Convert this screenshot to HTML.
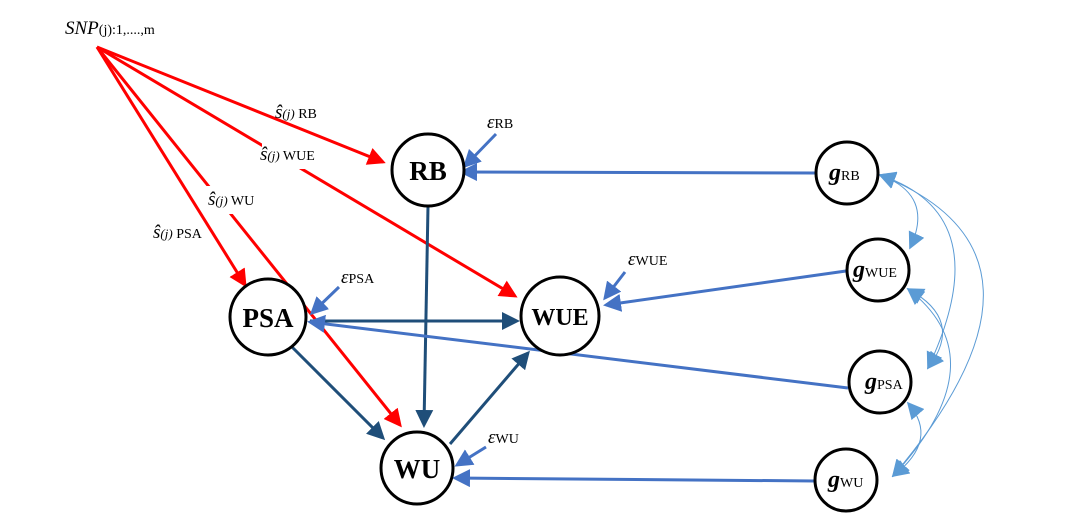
<!DOCTYPE html>
<html><head><meta charset="utf-8"><style>
html,body{margin:0;padding:0;background:#fff;width:1068px;height:523px;overflow:hidden}
svg text{font-family:"Liberation Serif",serif}
</style></head><body>
<svg width="1068" height="523" viewBox="0 0 1068 523" xmlns="http://www.w3.org/2000/svg">
<defs>
<marker id="ar" markerWidth="6" markerHeight="6" refX="5" refY="3" orient="auto" markerUnits="strokeWidth"><path d="M0,0 L6,3 L0,6 z" fill="#ff0000"/></marker>
<marker id="ad" markerWidth="6" markerHeight="6" refX="5" refY="3" orient="auto" markerUnits="strokeWidth"><path d="M0,0 L6,3 L0,6 z" fill="#1f4e79"/></marker>
<marker id="ab" markerWidth="6" markerHeight="6" refX="5" refY="3" orient="auto" markerUnits="strokeWidth"><path d="M0,0 L6,3 L0,6 z" fill="#4472c4"/></marker>
<marker id="al" viewBox="0 0 10 10" markerWidth="17" markerHeight="17" refX="9" refY="5" orient="auto-start-reverse" markerUnits="userSpaceOnUse"><path d="M0,0 L10,5 L0,10 z" fill="#5b9bd5"/></marker>
</defs>

<!-- red lines -->
<g stroke="#ff0000" stroke-width="3" fill="none">
<line x1="97" y1="47" x2="383" y2="162" marker-end="url(#ar)"/>
<line x1="97" y1="47" x2="515" y2="296" marker-end="url(#ar)"/>
<line x1="97" y1="47" x2="245" y2="285" marker-end="url(#ar)"/>
<line x1="97" y1="47" x2="400" y2="425" marker-end="url(#ar)"/>
</g>
<!-- label masks -->
<rect x="262" y="142" width="60" height="27" fill="#fff"/>
<rect x="204" y="186" width="52" height="28" fill="#fff"/>

<!-- dark blue -->
<g stroke="#1f4e79" stroke-width="3" fill="none">
<line x1="428" y1="206" x2="424" y2="425" marker-end="url(#ad)"/>
<line x1="310" y1="321" x2="517" y2="321" marker-end="url(#ad)"/>
<line x1="292" y1="347" x2="383" y2="438" marker-end="url(#ad)"/>
<line x1="450" y1="444" x2="528" y2="353" marker-end="url(#ad)"/>
</g>

<!-- blue -->
<g stroke="#4472c4" stroke-width="3" fill="none">
<line x1="815" y1="173" x2="462" y2="172" marker-end="url(#ab)"/>
<line x1="846" y1="271" x2="606" y2="305" marker-end="url(#ab)"/>
<line x1="848" y1="388" x2="310" y2="322" marker-end="url(#ab)"/>
<line x1="815" y1="481" x2="455" y2="478" marker-end="url(#ab)"/>
<line x1="496" y1="134" x2="465" y2="166" marker-end="url(#ab)"/>
<line x1="339" y1="287" x2="312" y2="313" marker-end="url(#ab)"/>
<line x1="625" y1="272" x2="605" y2="298" marker-end="url(#ab)"/>
<line x1="486" y1="447" x2="457" y2="465" marker-end="url(#ab)"/>
</g>

<!-- light blue curves -->
<g stroke="#5b9bd5" stroke-width="1" fill="none">
<path d="M880,175 Q935,195 910,248" marker-start="url(#al)" marker-end="url(#al)"/>
<path d="M880,175 Q1000,215 928,368" marker-start="url(#al)" marker-end="url(#al)"/>
<path d="M880,175 Q1080,255 893,476" marker-start="url(#al)" marker-end="url(#al)"/>
<path d="M908,289 Q965,320 928,368" marker-start="url(#al)" marker-end="url(#al)"/>
<path d="M908,289 Q1000,360 893,476" marker-start="url(#al)" marker-end="url(#al)"/>
<path d="M908,403 Q940,440 893,476" marker-start="url(#al)" marker-end="url(#al)"/>
</g>

<!-- main nodes -->
<g stroke="#000" stroke-width="3" fill="#fff">
<circle cx="428" cy="170" r="36"/>
<circle cx="268" cy="317" r="38"/>
<circle cx="560" cy="316" r="39"/>
<circle cx="417" cy="468" r="36"/>
<circle cx="847" cy="173" r="31"/>
<circle cx="878" cy="270" r="31"/>
<circle cx="880" cy="382" r="31"/>
<circle cx="846" cy="480" r="31"/>
</g>
<g font-weight="bold" font-size="27" text-anchor="middle" fill="#000">
<text x="428" y="180">RB</text>
<text x="268" y="327">PSA</text>
<text x="560" y="325" font-size="24">WUE</text>
<text x="417" y="478">WU</text>
</g>
<g font-size="24" fill="#000" font-weight="bold" font-style="italic">
<text x="829" y="180">g<tspan font-size="14" font-weight="normal" font-style="normal">RB</tspan></text>
<text x="853" y="277">g<tspan font-size="14" font-weight="normal" font-style="normal">WUE</tspan></text>
<text x="865" y="389">g<tspan font-size="14" font-weight="normal" font-style="normal">PSA</tspan></text>
<text x="828" y="487">g<tspan font-size="14" font-weight="normal" font-style="normal">WU</tspan></text>
</g>

<!-- labels -->
<g fill="#000" font-size="19">
<text x="65" y="34" font-style="italic">SNP<tspan font-size="14" font-style="normal">(j):1,....,m</tspan></text>
<text x="275" y="118" font-style="italic">ŝ<tspan font-size="13">(j)</tspan><tspan font-size="14" font-style="normal"> RB</tspan></text>
<text x="260" y="160" font-style="italic">ŝ<tspan font-size="13">(j)</tspan><tspan font-size="14" font-style="normal"> WUE</tspan></text>
<text x="208" y="205" font-style="italic">ŝ<tspan font-size="13">(j)</tspan><tspan font-size="14" font-style="normal"> WU</tspan></text>
<text x="153" y="238" font-style="italic">ŝ<tspan font-size="13">(j)</tspan><tspan font-size="14" font-style="normal"> PSA</tspan></text>
<text x="487" y="128" font-style="italic">ε<tspan font-size="14" font-style="normal">RB</tspan></text>
<text x="341" y="283" font-style="italic">ε<tspan font-size="14" font-style="normal">PSA</tspan></text>
<text x="628" y="265" font-style="italic">ε<tspan font-size="14" font-style="normal">WUE</tspan></text>
<text x="488" y="443" font-style="italic">ε<tspan font-size="14" font-style="normal">WU</tspan></text>
</g>
</svg>
</body></html>
